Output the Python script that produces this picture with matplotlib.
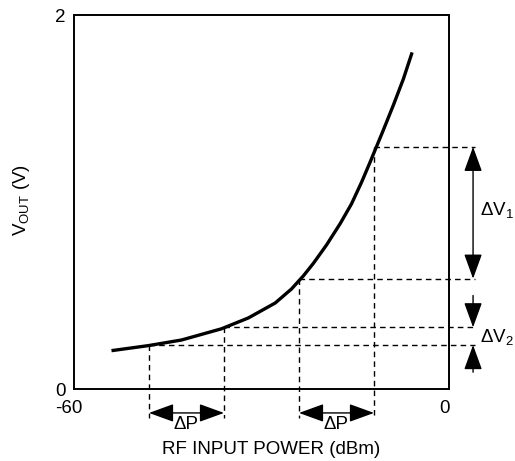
import matplotlib
matplotlib.use("Agg")
import matplotlib.pyplot as plt
from matplotlib.transforms import ScaledTranslation

plt.rcParams['font.family'] = ['Liberation Sans', 'DejaVu Sans']
plt.rcParams['mathtext.fontset'] = 'custom'
plt.rcParams['mathtext.rm'] = 'Liberation Sans'

# Transfer curve
curve_x = [-54.0, -48.1, -42.8, -36.4, -32.1, -27.8, -25.2, -23.3, -21.7, -19.6,
           -17.4, -15.6, -14.0, -12.6, -11.8, -10.5, -8.9, -7.3, -5.9]
curve_y = [0.205, 0.232, 0.262, 0.322, 0.38, 0.46, 0.535, 0.605, 0.672, 0.77,
           0.885, 0.99, 1.105, 1.215, 1.28, 1.385, 1.518, 1.658, 1.80]

# Marked operating points (dBm, V)
mark_x = [-48, -36, -24, -12]
mark_y = [0.235, 0.33, 0.59, 1.295]

x_ticks = [-60, 0]
x_ticklabels = ['-60', '0']
y_ticks = [0, 2]
y_ticklabels = ['0', '2']

FS = 13.5

fig = plt.figure(figsize=(5.15, 4.61), dpi=100)
ax = fig.add_axes([74 / 515, 72 / 461, 375 / 515, 374 / 461])
ax.set_xlim(-60, 0)
ax.set_ylim(0, 2)

for s in ax.spines.values():
    s.set_linewidth(1.4)

ax.plot(curve_x, curve_y, color='black', lw=2.4, solid_capstyle='butt',
        solid_joinstyle='round')

dash = dict(color='black', lw=1.0, linestyle=(0, (4, 3)), clip_on=False)
y_low = -0.155
x_right = 4.2
for xv, yv in zip(mark_x, mark_y):
    ax.plot([xv, xv], [yv, y_low], **dash)
    ax.plot([xv, x_right], [yv, yv], **dash)

arrow2 = dict(arrowstyle='<|-|>,head_length=1.1,head_width=0.4', color='black',
              lw=1.0, mutation_scale=14, shrinkA=0, shrinkB=0)
arrow1 = dict(arrowstyle='-|>,head_length=1.1,head_width=0.4', color='black',
              lw=1.0, mutation_scale=14, shrinkA=0, shrinkB=0)

# Delta P arrows
y_dp = -0.128
for a, b in [(mark_x[0], mark_x[1]), (mark_x[2], mark_x[3])]:
    ax.annotate('', xy=(b, y_dp), xytext=(a, y_dp), arrowprops=arrow2,
                annotation_clip=False)
    ax.text((a + b) / 2, -0.188, 'ΔP', ha='center', va='center', fontsize=FS,
            clip_on=False)

# Delta V1 arrow
x_dv = 3.85
ax.annotate('', xy=(x_dv, mark_y[2]), xytext=(x_dv, mark_y[3]), arrowprops=arrow2,
            annotation_clip=False)
ax.text(4.9, 0.955, 'ΔV$_\\mathregular{1}$', ha='left', va='center', fontsize=FS,
        clip_on=False)

# Delta V2 arrows (pointing inward)
ax.annotate('', xy=(x_dv, mark_y[1]), xytext=(x_dv, 0.50), arrowprops=arrow1,
            annotation_clip=False)
ax.annotate('', xy=(x_dv, mark_y[0]), xytext=(x_dv, 0.09), arrowprops=arrow1,
            annotation_clip=False)
ax.text(4.9, 0.275, 'ΔV$_\\mathregular{2}$', ha='left', va='center', fontsize=FS,
        clip_on=False)

ax.set_xticks(x_ticks)
ax.set_xticklabels(x_ticklabels, fontsize=FS)
ax.set_yticks(y_ticks)
ax.set_yticklabels(y_ticklabels, fontsize=FS)
ax.tick_params(length=0, pad=6)
ax.tick_params(axis='x', pad=8)
off = ScaledTranslation(-5 / 100, 0, fig.dpi_scale_trans)
for lbl in ax.get_xticklabels():
    lbl.set_transform(lbl.get_transform() + off)

ax.set_xlabel('RF INPUT POWER (dBm)', fontsize=FS, va='center')
ax.xaxis.set_label_coords(0.527, -0.163)
ax.set_ylabel('V$_\\mathregular{OUT}$ (V)', fontsize=FS, va='center')
ax.yaxis.set_label_coords(-0.139, 0.505)

fig.savefig('out.png', dpi=100)
